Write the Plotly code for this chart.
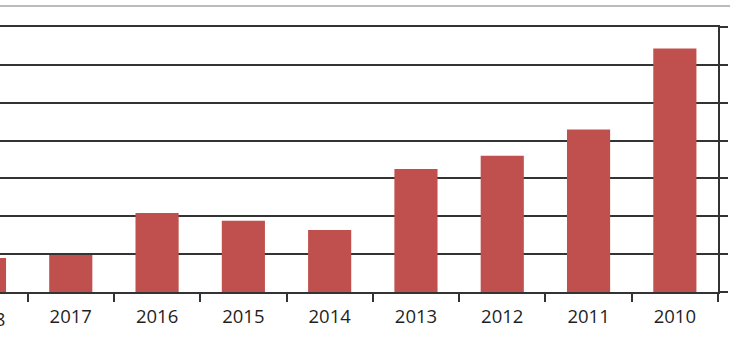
import plotly.graph_objects as go

years = ["2018", "2017", "2016", "2015", "2014", "2013", "2012", "2011", "2010"]
values = [0.90, 0.98, 2.09, 1.88, 1.64, 3.25, 3.60, 4.29, 6.43]
y_ticks = [0, 1, 2, 3, 4, 5, 6, 7]

x_range = [0.18, 8.5]
label_font = dict(family="Open Sans", size=18.5, color="#1f1f1f")

fig = go.Figure()
fig.add_trace(go.Bar(
    x=years, y=values,
    marker=dict(color="#C0504D", line=dict(width=0)),
    hoverinfo="x+y",
))

fig.update_layout(
    width=730, height=353,
    margin=dict(l=0, r=12, t=27, b=61),
    paper_bgcolor="white", plot_bgcolor="white",
    bargap=0.5,
    showlegend=False,
    xaxis=dict(
        type="category",
        categoryorder="array", categoryarray=years,
        range=x_range,
        tickson="boundaries",
        ticks="outside", ticklen=8, tickcolor="#333333", tickwidth=1.5,
        showgrid=False,
        showline=True, linecolor="#333333", linewidth=1.5,
        mirror=True,
        tickfont=label_font,
        ticklabelstandoff=7,
        zeroline=False,
    ),
    yaxis=dict(
        range=[0, 7],
        tickvals=y_ticks,
        side="right",
        showticklabels=False,
        ticks="outside", ticklen=8, tickcolor="#333333", tickwidth=1.5,
        showgrid=True, gridcolor="#333333", gridwidth=1.5,
        showline=True, linecolor="#333333", linewidth=1.5,
        zeroline=False,
    ),
    shapes=[dict(
        type="line", xref="paper", yref="paper",
        x0=0, x1=1.02, y0=1 + 21 / 265, y1=1 + 21 / 265,
        line=dict(color="#A6A6A6", width=1.5),
    )],
    annotations=[dict(
        x=(0 - x_range[0]) / (x_range[1] - x_range[0]), y=0,
        xref="paper", yref="y",
        text=years[0], showarrow=False,
        yanchor="top", xanchor="center",
        yshift=-12, font=label_font,
    )],
)

fig.write_html("out.html")
